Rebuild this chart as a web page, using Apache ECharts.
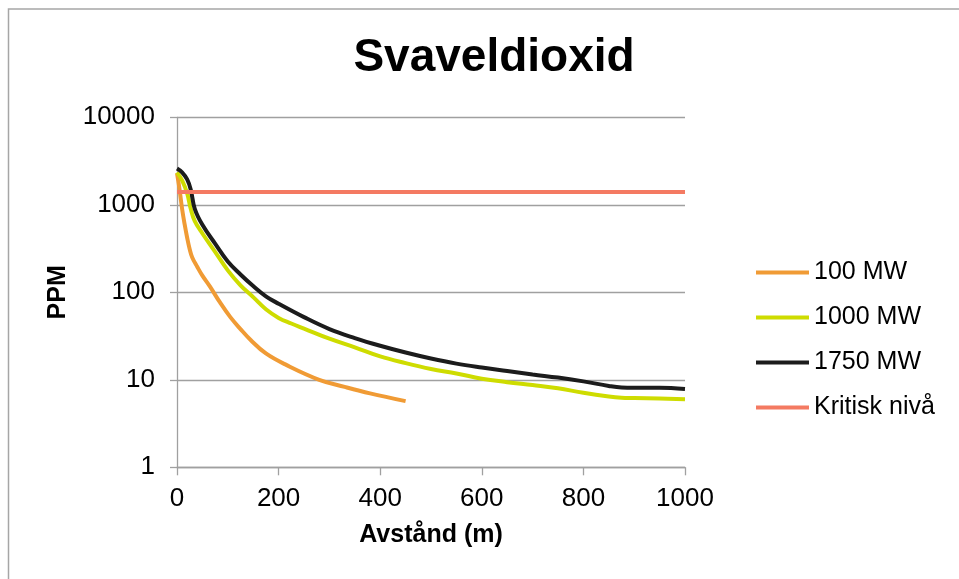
<!DOCTYPE html>
<html>
<head>
<meta charset="utf-8">
<script src="https://cdn.jsdelivr.net/npm/echarts@6/dist/echarts.min.js"></script>
<style>html,body{margin:0;padding:0;background:#fff;}#c{width:959px;height:579px;}</style>
</head>
<body>
<div id="c"></div>
<script>
const titleText = 'Svaveldioxid';
const xAxisName = 'Avstånd (m)';
const yAxisName = 'PPM';
const seriesNames = ['100 MW', '1000 MW', '1750 MW', 'Kritisk nivå'];
const seriesColors = ['#F09B35', '#CEDC00', '#1C1C1C', '#F47A62'];

const dist100 = [0, 5, 10, 15, 20, 25, 30, 40, 50, 65, 85, 105, 125, 145, 175, 215, 280, 330, 380, 450];
const ppm100  = [2300, 1500, 900, 600, 420, 310, 250, 195, 155, 116, 76, 52, 38, 28.5, 20, 14.8, 10, 8.3, 7.0, 5.7];

const dist1000 = [0, 10, 20, 27, 35, 50, 75, 100, 125, 150, 175, 200, 225, 250, 300, 350, 400, 450, 500, 550, 600, 650, 700, 750, 800, 850, 875, 900, 950, 1000];
const ppm1000  = [2350, 1900, 1350, 900, 650, 470, 290, 178, 120, 88, 64, 51, 44, 38.5, 29.5, 23.5, 18.5, 15.5, 13.3, 11.8, 10.3, 9.4, 8.7, 8.0, 7.1, 6.45, 6.25, 6.2, 6.1, 6.0];

const dist1750 = [0, 10, 20, 27, 35, 50, 75, 100, 125, 150, 175, 200, 250, 300, 350, 400, 450, 500, 550, 600, 650, 700, 750, 800, 850, 875, 900, 950, 1000];
const ppm1750  = [2600, 2350, 1950, 1500, 900, 590, 360, 225, 160, 118, 90, 74, 52, 38, 30, 24.5, 20.5, 17.5, 15.3, 13.8, 12.6, 11.5, 10.6, 9.6, 8.5, 8.15, 8.1, 8.1, 7.85];

const criticalDist = [0, 1000];
const criticalPpm = [1400, 1400];

const xTicks = [0, 200, 400, 600, 800, 1000];
const yTicks = [1, 10, 100, 1000, 10000];

function pairs(xs, ys) { return xs.map((x, i) => [x, ys[i]]); }

const font = 'Arial, "Liberation Sans", sans-serif';
const chart = echarts.init(document.getElementById('c'), null, {renderer: 'canvas'});
const lineSeries = (name, data, color, smooth) => ({
  name, type: 'line', data, color, smooth, showSymbol: false, symbol: 'none',
  lineStyle: {width: 4, color}, emphasis: {disabled: true}, z: 3
});
chart.setOption({
  animation: false,
  backgroundColor: '#fff',
  graphic: [{
    type: 'rect', silent: true,
    shape: {x: 8.5, y: 9, width: 1200, height: 1200},
    style: {fill: 'none', stroke: '#a6a6a6', lineWidth: 1.5}
  }],
  title: {
    text: titleText, left: 489, textAlign: 'center', top: 30,
    textStyle: {fontFamily: font, fontSize: 46, fontWeight: 'bold', color: '#000'}
  },
  legend: {
    orient: 'vertical', left: 751, top: 255, itemGap: 20,
    itemWidth: 53, itemHeight: 4, icon: 'rect',
    data: seriesNames,
    textStyle: {fontFamily: font, fontSize: 25, color: '#000', lineHeight: 25}
  },
  grid: {left: 177, right: 274, top: 117.3, bottom: 111.7, containLabel: false},
  xAxis: {
    type: 'value', min: 0, max: 1000, interval: 200,
    name: xAxisName, nameLocation: 'middle', nameGap: 55,
    nameTextStyle: {fontFamily: font, fontSize: 25, fontWeight: 'bold', color: '#000'},
    axisLine: {show: true, onZero: false, lineStyle: {color: '#a0a0a0', width: 1.3}},
    axisTick: {show: true, length: 8, lineStyle: {color: '#a0a0a0', width: 1.3}},
    axisLabel: {margin: 19, fontFamily: font, fontSize: 26, color: '#000',
      formatter: v => xTicks.includes(v) ? String(v) : ''},
    splitLine: {show: false}
  },
  yAxis: {
    type: 'log', logBase: 10, min: 1, max: 10000,
    name: yAxisName, nameLocation: 'middle', nameGap: 106, nameRotate: 90,
    nameTextStyle: {fontFamily: font, fontSize: 25, fontWeight: 'bold', color: '#000'},
    axisLine: {show: true, lineStyle: {color: '#a0a0a0', width: 1.3}},
    axisTick: {show: true, length: 7, lineStyle: {color: '#a0a0a0', width: 1.3}},
    axisLabel: {margin: 22, fontFamily: font, fontSize: 26, color: '#000',
      formatter: v => yTicks.includes(Math.round(v)) ? String(Math.round(v)) : ''},
    splitLine: {show: true, lineStyle: {color: '#a0a0a0', width: 1.3}}
  },
  series: [
    lineSeries(seriesNames[0], pairs(dist100, ppm100), seriesColors[0], 0.4),
    lineSeries(seriesNames[1], pairs(dist1000, ppm1000), seriesColors[1], 0.4),
    lineSeries(seriesNames[2], pairs(dist1750, ppm1750), seriesColors[2], 0.4),
    lineSeries(seriesNames[3], pairs(criticalDist, criticalPpm), seriesColors[3], false)
  ]
});
</script>
</body>
</html>
